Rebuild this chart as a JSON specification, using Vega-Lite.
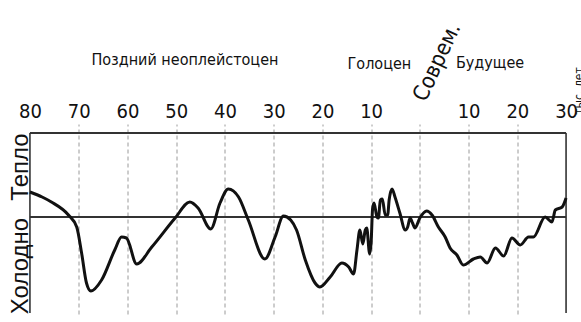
{
  "$schema": "https://vega.github.io/schema/vega-lite/v6.json",
  "width": 541,
  "height": 182,
  "autosize": {"type": "none"},
  "padding": {"left": 27.5, "top": 132, "right": 12.5, "bottom": 8},
  "background": "white",
  "config": {"view": {"stroke": null}},
  "datasets": {
    "curve": [
      {"t": -80, "v": 25}, {"t": -77.5, "v": 20}, {"t": -75.6, "v": 15}, {"t": -72.1, "v": 2},
      {"t": -70.4, "v": -10}, {"t": -69.4, "v": -36}, {"t": -68.4, "v": -66}, {"t": -67.5, "v": -74},
      {"t": -65.3, "v": -63}, {"t": -62.6, "v": -33}, {"t": -61.2, "v": -20}, {"t": -60.2, "v": -21},
      {"t": -58.1, "v": -47}, {"t": -55, "v": -30}, {"t": -50.2, "v": -1}, {"t": -47.2, "v": 15},
      {"t": -45.5, "v": 9}, {"t": -42.9, "v": -12}, {"t": -41, "v": 14}, {"t": -39.3, "v": 28},
      {"t": -37.2, "v": 20}, {"t": -35.2, "v": -3}, {"t": -31.8, "v": -42}, {"t": -29.7, "v": -20},
      {"t": -28, "v": 1}, {"t": -26.5, "v": -3}, {"t": -25.3, "v": -13}, {"t": -23.5, "v": -43},
      {"t": -21.5, "v": -66}, {"t": -20.5, "v": -70}, {"t": -18.4, "v": -60}, {"t": -16, "v": -46},
      {"t": -14.6, "v": -50}, {"t": -13.6, "v": -57}, {"t": -12.9, "v": -33}, {"t": -12.3, "v": -13},
      {"t": -11.7, "v": -27}, {"t": -11.2, "v": -13}, {"t": -10.9, "v": -11}, {"t": -10.3, "v": -37},
      {"t": -10, "v": -26}, {"t": -9.7, "v": 8}, {"t": -9.4, "v": 14}, {"t": -8.8, "v": 0},
      {"t": -8.5, "v": -1}, {"t": -8.1, "v": 17}, {"t": -7.7, "v": 18}, {"t": -7.1, "v": 2},
      {"t": -6.6, "v": 2}, {"t": -6.3, "v": 17}, {"t": -5.7, "v": 28}, {"t": -5.1, "v": 20},
      {"t": -4.1, "v": 4}, {"t": -3, "v": -13}, {"t": -2.5, "v": -10}, {"t": -2, "v": -1},
      {"t": -1.5, "v": -6}, {"t": -1, "v": -11}, {"t": 0, "v": -1}, {"t": 1.4, "v": 6},
      {"t": 2.5, "v": 2}, {"t": 3.8, "v": -10}, {"t": 5.2, "v": -20}, {"t": 6.2, "v": -31},
      {"t": 7.6, "v": -38}, {"t": 8.9, "v": -48}, {"t": 11, "v": -42}, {"t": 12.4, "v": -40},
      {"t": 13.8, "v": -46}, {"t": 15.5, "v": -31}, {"t": 17.2, "v": -39}, {"t": 18.9, "v": -21},
      {"t": 20.6, "v": -28}, {"t": 22.3, "v": -20}, {"t": 23.3, "v": -20}, {"t": 25.7, "v": 0},
      {"t": 27.1, "v": -5}, {"t": 27.8, "v": 7}, {"t": 29.2, "v": 10}, {"t": 30, "v": 19}
    ],
    "baseline": [
      {"t": -80, "v": 0}, {"t": 30, "v": 0}
    ],
    "topline": [
      {"t": -80, "t2": 30, "v": 84}
    ],
    "sidelines": [
      {"t": -80, "v": -96, "v2": 84},
      {"t": 30, "v": -96, "v2": 84}
    ],
    "titles": [
      {"t": -48.2, "v": 152, "label": "Поздний неоплейстоцен"},
      {"t": -8.3, "v": 148, "label": "Голоцен"},
      {"t": 14.4, "v": 149, "label": "Будущее"}
    ],
    "sides": [
      {"t": -81.9, "v": 50, "label": "Тепло"},
      {"t": -81.9, "v": -49, "label": "Холодно"}
    ]
  },
  "encoding": {
    "x": {
      "field": "t", "type": "quantitative",
      "scale": {"domain": [-80.5, 30.5], "nice": false},
      "axis": {
        "orient": "top", "title": null, "values": [-80, -70, -60, -50, -40, -30, -20, -10, 0, 10, 20, 30],
        "labelExpr": "datum.value == 0 ? '' : '' + abs(datum.value)",
        "domain": false,
        "ticks": true, "tickSize": 8, "tickWidth": 1, "tickDash": [3, 3],
        "tickColor": {"condition": {"test": "datum.value == -80 || datum.value == 30", "value": "transparent"}, "value": "#9a9a9a"},
        "grid": true,
        "gridColor": {"condition": {"test": "datum.value == -80 || datum.value == 30", "value": "transparent"}, "value": "#9a9a9a"},
        "gridDash": [4, 3], "gridWidth": 1, "gridOpacity": 1,
        "labelPadding": 3,
        "labelFont": "DejaVu Sans Condensed",
        "labelFontSize": 20, "labelColor": "#111", "labelFlush": false, "labelOverlap": false
      }
    },
    "y": {"field": "v", "type": "quantitative", "scale": {"domain": [-97, 85], "nice": false}, "axis": null}
  },
  "layer": [
    {
      "data": {"name": "baseline"},
      "mark": {"type": "line", "color": "#333", "strokeWidth": 1.8, "clip": false},
      "encoding": {}
    },
    {
      "data": {"name": "topline"},
      "mark": {"type": "rule", "color": "#333", "strokeWidth": 1.8, "clip": false},
      "encoding": {"x2": {"field": "t2"}}
    },
    {
      "data": {"name": "sidelines"},
      "mark": {"type": "rule", "color": "#333", "strokeWidth": 1.6, "clip": false},
      "encoding": {"y2": {"field": "v2"}}
    },
    {
      "data": {"name": "curve"},
      "mark": {"type": "line", "color": "#111", "strokeWidth": 3, "interpolate": "monotone", "clip": false},
      "encoding": {}
    },
    {
      "data": {"name": "titles"},
      "mark": {"type": "text", "font": "DejaVu Sans Condensed", "fontSize": 16, "color": "#111", "align": "center", "baseline": "alphabetic"},
      "encoding": {"text": {"field": "label"}}
    },
    {
      "data": {"values": [{"t": 3.5, "v": 155, "label": "Соврем."}]},
      "mark": {"type": "text", "font": "DejaVu Sans Condensed", "fontSize": 22, "color": "#111", "align": "center", "baseline": "middle", "angle": -65},
      "encoding": {"text": {"field": "label"}}
    },
    {
      "data": {"values": [{"t": 31.6, "v": 126, "label": "тыс. лет"}]},
      "mark": {"type": "text", "font": "DejaVu Sans Condensed", "fontSize": 12, "color": "#111", "align": "center", "baseline": "top", "angle": -90},
      "encoding": {"text": {"field": "label"}}
    },
    {
      "data": {"name": "sides"},
      "mark": {"type": "text", "font": "Liberation Sans", "fontSize": 24, "color": "#111", "align": "center", "baseline": "middle", "angle": -90},
      "encoding": {"text": {"field": "label"}}
    }
  ]
}
